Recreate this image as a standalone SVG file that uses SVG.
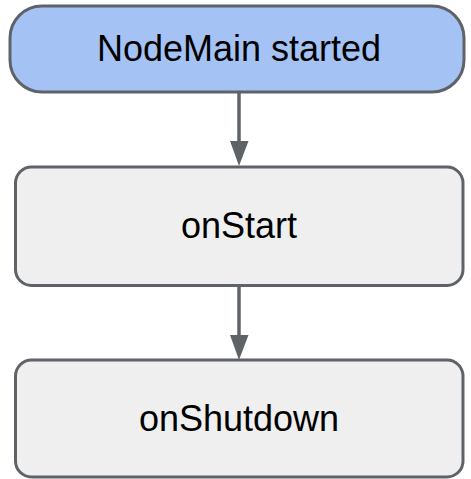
<svg xmlns="http://www.w3.org/2000/svg" width="471" height="479" viewBox="0 0 471 479">
  <style>
    .box { stroke: #5f6368; stroke-width: 3; }
    .start { fill: #a4c2f4; }
    .step { fill: #efefef; }
    .label { font-family: "Liberation Sans", Arial, sans-serif; font-size: 36px; fill: #000; text-anchor: middle; }
    .edge { stroke: #5f6368; stroke-width: 3.5; fill: none; }
    .head { fill: #5f6368; }
  </style>
  <rect width="471" height="479" fill="#ffffff"/>
  <g id="connectors">
    <line class="edge" x1="239" y1="92" x2="239" y2="145"/>
    <polygon class="head" points="230,141 248.5,141 239,166"/>
    <line class="edge" x1="239" y1="286" x2="239" y2="339"/>
    <polygon class="head" points="230,335 248.5,335 239,360"/>
  </g>
  <g id="node-main-started">
    <rect class="box start" x="10" y="6" width="454" height="86" rx="32" ry="32"/>
    <text class="label" x="239" y="61">NodeMain started</text>
  </g>
  <g id="on-start">
    <rect class="box step" x="15.5" y="167" width="447.5" height="118.5" rx="16" ry="16"/>
    <text class="label" x="239" y="238">onStart</text>
  </g>
  <g id="on-shutdown">
    <rect class="box step" x="15.5" y="360" width="447.5" height="117" rx="16" ry="16"/>
    <text class="label" x="239" y="431">onShutdown</text>
  </g>
</svg>
